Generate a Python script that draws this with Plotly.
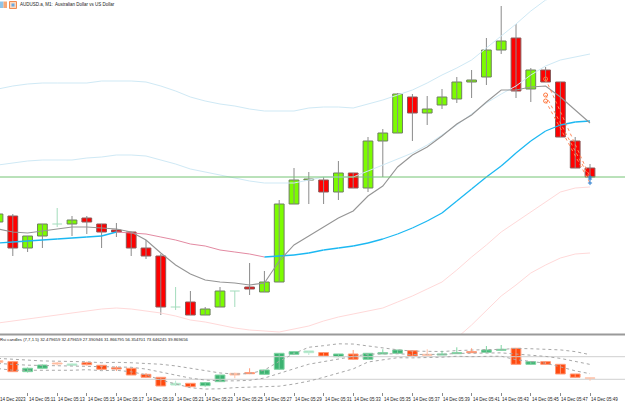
import plotly.graph_objects as go
import pandas as pd

# ---------------- data ----------------
times = pd.date_range("2023-12-14 05:09", periods=41, freq="min")
time_labels = [t.strftime("%H:%M") for t in times]
date_label = "14 Dec 2023"

open_ = [0.67278, 0.67284, 0.67252, 0.67264, 0.67276, 0.67276, 0.67282, 0.67276, 0.67270, 0.67268,
         0.67252, 0.67244, 0.67193, 0.67198, 0.67185, 0.67193, 0.67209, 0.67213, 0.67208, 0.67218,
         0.67296, 0.67320, 0.67320, 0.67308, 0.67327, 0.67312, 0.67359, 0.67367, 0.67403, 0.67387,
         0.67395, 0.67401, 0.67418, 0.67423, 0.67450, 0.67462, 0.67411, 0.67430, 0.67418, 0.67359,
         0.67332]
high = [0.67288, 0.67286, 0.67264, 0.67276, 0.67292, 0.67284, 0.67284, 0.67276, 0.67277, 0.67268,
        0.67260, 0.67246, 0.67213, 0.67209, 0.67193, 0.67213, 0.67209, 0.67237, 0.67229, 0.67300,
        0.67332, 0.67328, 0.67323, 0.67339, 0.67327, 0.67363, 0.67371, 0.67407, 0.67406, 0.67404,
        0.67411, 0.67423, 0.67430, 0.67462, 0.67494, 0.67476, 0.67432, 0.67433, 0.67418, 0.67363,
        0.67336]
low = [0.67275, 0.67244, 0.67248, 0.67252, 0.67273, 0.67264, 0.67266, 0.67252, 0.67263, 0.67244,
       0.67241, 0.67185, 0.67190, 0.67185, 0.67185, 0.67193, 0.67193, 0.67205, 0.67208, 0.67218,
       0.67296, 0.67296, 0.67296, 0.67300, 0.67312, 0.67308, 0.67323, 0.67367, 0.67359, 0.67375,
       0.67391, 0.67397, 0.67402, 0.67415, 0.67446, 0.67402, 0.67398, 0.67418, 0.67363, 0.67332,
       0.67323]
close = [0.67286, 0.67252, 0.67264, 0.67276, 0.67276, 0.67280, 0.67278, 0.67268, 0.67268, 0.67252,
         0.67244, 0.67193, 0.67193, 0.67185, 0.67191, 0.67209, 0.67209, 0.67211, 0.67218, 0.67296,
         0.67320, 0.67321, 0.67308, 0.67327, 0.67312, 0.67359, 0.67367, 0.67406, 0.67387, 0.67391,
         0.67403, 0.67418, 0.67420, 0.67450, 0.67459, 0.67409, 0.67430, 0.67418, 0.67363, 0.67332,
         0.67323]

ma_fast = [0.67271, 0.67268, 0.67267, 0.67269, 0.67271, 0.67273, 0.67273, 0.67272, 0.67271, 0.67268,
           0.67260, 0.67247, 0.67235, 0.67226, 0.67220, 0.67218, 0.67217, 0.67215, 0.67217, 0.67239,
           0.67255, 0.67264, 0.67273, 0.67282, 0.67289, 0.67304, 0.67314, 0.67333, 0.67345, 0.67353,
           0.67364, 0.67376, 0.67385, 0.67398, 0.67410, 0.67410, 0.67413, 0.67414, 0.67403, 0.67390,
           0.67377]
ma_slow = [0.67257, 0.67258, 0.67259, 0.67260, 0.67261, 0.67262, 0.67263, 0.67264, 0.67268, 0.67267,
           0.67266, 0.67263, 0.67260, 0.67256, 0.67254, 0.67250, 0.67248, 0.67246, 0.67243, 0.67244,
           0.67245, 0.67247, 0.67250, 0.67252, 0.67254, 0.67257, 0.67261, 0.67266, 0.67272, 0.67279,
           0.67287, 0.67299, 0.67311, 0.67323, 0.67334, 0.67347, 0.67359, 0.67369, 0.67375, 0.67378,
           0.67379]
band_up2 = [0.67411, 0.67414, 0.67416, 0.67417, 0.67417, 0.67417, 0.67417, 0.67419, 0.67419, 0.67419,
            0.67418, 0.67414, 0.67409, 0.67403, 0.67399, 0.67396, 0.67394, 0.67391, 0.67389, 0.67389,
            0.67389, 0.67392, 0.67393, 0.67393, 0.67392, 0.67396, 0.67400, 0.67405, 0.67410, 0.67417,
            0.67425, 0.67432, 0.67440, 0.67452, 0.67464, 0.67476, 0.67489, 0.67500, 0.67504, 0.67506,
            0.67506]
band_up1 = [0.67335, 0.67337, 0.67339, 0.67340, 0.67340, 0.67340, 0.67342, 0.67343, 0.67345, 0.67345,
            0.67344, 0.67340, 0.67336, 0.67331, 0.67328, 0.67325, 0.67322, 0.67319, 0.67317, 0.67317,
            0.67317, 0.67320, 0.67323, 0.67323, 0.67323, 0.67329, 0.67335, 0.67341, 0.67347, 0.67355,
            0.67365, 0.67375, 0.67386, 0.67397, 0.67406, 0.67414, 0.67425, 0.67434, 0.67440, 0.67443,
            0.67446]
band_dn1 = [0.67177, 0.67179, 0.67181, 0.67183, 0.67185, 0.67187, 0.67189, 0.67191, 0.67192, 0.67191,
            0.67189, 0.67187, 0.67184, 0.67180, 0.67178, 0.67175, 0.67172, 0.67170, 0.67169, 0.67168,
            0.67171, 0.67174, 0.67179, 0.67183, 0.67186, 0.67189, 0.67192, 0.67198, 0.67204, 0.67211,
            0.67218, 0.67230, 0.67243, 0.67255, 0.67268, 0.67278, 0.67288, 0.67298, 0.67308, 0.67312,
            0.67313]
band_dn2 = [0.67096, 0.67100, 0.67103, 0.67106, 0.67109, 0.67112, 0.67115, 0.67117, 0.67116, 0.67114,
            0.67110, 0.67110, 0.67107, 0.67104, 0.67101, 0.67100, 0.67095, 0.67094, 0.67094, 0.67093,
            0.67097, 0.67101, 0.67108, 0.67114, 0.67119, 0.67121, 0.67123, 0.67130, 0.67136, 0.67142,
            0.67146, 0.67162, 0.67175, 0.67189, 0.67204, 0.67215, 0.67227, 0.67235, 0.67242, 0.67246,
            0.67247]

trade_open_idx = 37
trade_close_idx = 40
trade_open_prices = [0.67421, 0.67405, 0.67399]
trade_close_prices = [0.67323, 0.67321, 0.67317]

rsi_open = [63.0, 61.2, 43.5, 49.5, 58.8, 54.8, 59.4, 54.8, 50.5, 49.5,
            38.8, 33.5, 19.9, 22.9, 18.7, 25.8, 40.6, 41.7, 38.8, 47.7,
            74.2, 77.1, 77.4, 70.0, 74.8, 65.4, 74.8, 76.0, 80.6, 74.2,
            73.0, 75.3, 78.9, 77.8, 81.3, 84.9, 56.5, 61.2, 56.5, 39.4,
            32.48]
rsi_high = [64.0, 62.4, 50.9, 56.2, 60.6, 58.0, 61.2, 54.8, 53.5, 49.5,
            41.0, 33.5, 27.5, 22.9, 25.2, 37.6, 41.7, 49.5, 46.5, 76.0,
            78.9, 80.1, 77.4, 74.8, 81.9, 76.0, 83.1, 81.9, 80.6, 83.1,
            80.6, 86.6, 84.9, 88.9, 90.7, 84.9, 61.2, 61.2, 56.5, 39.4,
            32.48]
rsi_low = [59.5, 43.0, 42.0, 49.5, 54.4, 54.8, 54.4, 46.5, 44.7, 37.6,
           33.5, 18.1, 18.1, 16.9, 16.9, 25.8, 31.8, 39.9, 38.8, 47.7,
           74.2, 73.0, 71.2, 70.0, 65.4, 65.4, 74.8, 76.0, 71.2, 72.5,
           73.0, 75.3, 77.1, 77.8, 81.3, 56.5, 56.5, 56.5, 39.4, 33.5,
           27.39]
rsi_close = [60.0, 43.5, 49.5, 55.3, 57.1, 57.1, 55.8, 47.7, 48.2, 37.6,
             33.5, 18.1, 22.9, 16.9, 24.0, 37.6, 37.6, 39.9, 46.5, 76.0,
             78.9, 80.1, 71.2, 74.8, 65.4, 76.0, 77.1, 81.9, 71.2, 72.5,
             74.8, 77.1, 77.1, 81.9, 83.1, 56.5, 61.2, 56.5, 39.4, 33.5,
             31.87]
rsi_faint = [1, 0, 0, 0, 1, 1, 0, 0, 0, 0,
             0, 0, 1, 0, 0, 0, 1, 0, 0, 0,
             0, 1, 0, 0, 0, 0, 0, 0, 0, 1,
             0, 0, 0, 0, 0, 0, 0, 0, 0, 0,
             1]
rsi_mid = [58, 56, 55, 54.5, 54, 54, 54, 52.3, 53, 51.3,
           48.1, 42.6, 37.7, 32.1, 28.7, 27.2, 27.2, 28.1, 32.2, 39.8,
           48.6, 56.7, 61.5, 66.8, 70.4, 74.6, 74.8, 75.2, 73.9, 74.1,
           74.1, 75.8, 76.0, 76.6, 76.8, 74.7, 73.1, 70.5, 67.0, 62.0,
           56.35]
rsi_upper = [67, 66, 64, 62.5, 62, 62, 61, 59.3, 60, 59.3,
             58.1, 56.6, 53.7, 49.1, 44.7, 41.2, 39.2, 40.1, 46.2, 61.8,
             75.6, 86.7, 89.5, 92.8, 92.4, 88.6, 84.8, 82.2, 79.9, 80.1,
             79.1, 80.8, 82.0, 82.6, 82.8, 84.7, 84.1, 82.5, 82.0, 79.0,
             73.65]
rsi_lower = [49, 46, 46, 46.5, 46, 46, 47, 45.3, 46, 43.3,
             38.1, 28.6, 21.7, 15.1, 12.7, 13.2, 15.2, 16.1, 18.2, 17.8,
             21.6, 26.7, 33.5, 40.8, 48.4, 60.6, 64.8, 68.2, 67.9, 68.1,
             69.1, 70.8, 70.0, 70.6, 70.8, 64.7, 62.1, 58.5, 52.0, 45.0,
             39.87]
rsi_levels = [70, 30]
rsi_caption = ("Rsi candles (7,7,1.5) 32.479659 32.479659 27.390946 31.866795 "
               "56.354701 73.646245 39.869656")
title_text = "AUDUSD.a, M1:  Australian Dollar vs US Dollar"

# ---------------- geometry helpers (pixel -> paper) ----------------
W, H = 625, 404
def px(x):
    return x / W
def py(y):
    return 1 - y / H

n = len(times)
xs = list(range(n))
X_MIN, X_MAX = 2 / 14.8, 627 / 14.8
BODY_W = 0.66
FONT = "Liberation Sans, Arial, sans-serif"
TXT = "#222222"

fig = go.Figure()

def wick_trace(idx, lo, hi, color, xa, ya):
    wx, wy = [], []
    for i in idx:
        wx += [xs[i], xs[i], None]
        wy += [lo[i], hi[i], None]
    return go.Scatter(x=wx, y=wy, mode="lines", line=dict(color=color, width=1),
                      hoverinfo="skip", showlegend=False, xaxis=xa, yaxis=ya)

def body_trace(idx, o, c, fill, edge, xa, ya):
    return go.Bar(x=[xs[i] for i in idx],
                  y=[abs(c[i] - o[i]) for i in idx],
                  base=[min(o[i], c[i]) for i in idx],
                  width=BODY_W, marker=dict(color=fill, line=dict(color=edge, width=1)),
                  hoverinfo="skip", showlegend=False, xaxis=xa, yaxis=ya)

def line_trace(vals, color, xa="x", ya="y", dash="solid", width=1):
    return go.Scatter(x=xs, y=vals, mode="lines", line=dict(color=color, width=width, dash=dash),
                      hoverinfo="skip", showlegend=False, xaxis=xa, yaxis=ya)

# --- main panel: price candles ---
up = [i for i in xs if close[i] > open_[i]]
dn = [i for i in xs if close[i] < open_[i]]
dj = [i for i in xs if close[i] == open_[i]]

fig.add_trace(wick_trace(up + dn, low, high, "#8a8a8a", "x", "y"))
fig.add_trace(wick_trace(dj, low, high, "#a3dcbc", "x", "y"))
fig.add_trace(body_trace(up, open_, close, "#7cfc00", "#6f7f62", "x", "y"))
fig.add_trace(body_trace(dn, open_, close, "#ff0000", "#8a5a5a", "x", "y"))
djx, djy = [], []
for i in dj:
    djx += [xs[i] - BODY_W / 2, xs[i] + BODY_W / 2, None]
    djy += [open_[i], open_[i], None]
fig.add_trace(go.Scatter(x=djx, y=djy, mode="lines", line=dict(color="#a3dcbc", width=1),
                         hoverinfo="skip", showlegend=False))

# --- bands ---
fig.add_trace(line_trace(band_up2, "#cfe9f5"))
fig.add_trace(line_trace(band_up1, "#cfe9f5"))
fig.add_trace(line_trace(band_dn1, "#ffd9d9"))
fig.add_trace(line_trace(band_dn2, "#ffd9d9"))

# --- slow MA, coloured by slope ---
bx, by, rx, ry = [], [], [], []
for i in range(n - 1):
    if ma_slow[i + 1] > ma_slow[i]:
        bx += [xs[i], xs[i + 1], None]; by += [ma_slow[i], ma_slow[i + 1], None]
    else:
        rx += [xs[i], xs[i + 1], None]; ry += [ma_slow[i], ma_slow[i + 1], None]
fig.add_trace(go.Scatter(x=bx, y=by, mode="lines", line=dict(color="#1cb8f2", width=1.3),
                         hoverinfo="skip", showlegend=False))
fig.add_trace(go.Scatter(x=rx, y=ry, mode="lines", line=dict(color="#e38aa2", width=1),
                         hoverinfo="skip", showlegend=False))

# --- fast MA ---
fig.add_trace(line_trace(ma_fast, "#959595", width=1.1))

# --- bid line ---
fig.add_trace(go.Scatter(x=[X_MIN, X_MAX], y=[close[-1], close[-1]], mode="lines",
                         line=dict(color="#74c474", width=1), hoverinfo="skip", showlegend=False))

# --- trades ---
tx, ty = [], []
for po, pc in zip(trade_open_prices, trade_close_prices):
    tx += [trade_open_idx, trade_close_idx, None]
    ty += [po, pc, None]
fig.add_trace(go.Scatter(x=tx, y=ty, mode="lines", line=dict(color="#ff8a5c", width=1, dash="dot"),
                         hoverinfo="skip", showlegend=False))
fig.add_trace(go.Scatter(x=[trade_open_idx] * len(trade_open_prices), y=trade_open_prices,
                         mode="markers", marker=dict(symbol="circle-open", size=4, color="#ff7a40",
                                                     line=dict(width=1)),
                         hoverinfo="skip", showlegend=False))
fig.add_trace(go.Scatter(x=[trade_close_idx] * len(trade_close_prices), y=trade_close_prices,
                         mode="markers", marker=dict(symbol="cross-thin", size=3,
                                                     line=dict(color="#2a7fd0", width=1)),
                         hoverinfo="skip", showlegend=False))

# --- sub panel: RSI candles ---
for lvl in rsi_levels:
    fig.add_trace(go.Scatter(x=[X_MIN, X_MAX], y=[lvl, lvl], mode="lines",
                             line=dict(color="#cfcfcf", width=1), hoverinfo="skip",
                             showlegend=False, xaxis="x2", yaxis="y2"))
for band in (rsi_upper, rsi_mid, rsi_lower):
    fig.add_trace(line_trace(band, "#a8a8a8", "x2", "y2", dash="dot", width=1))

groups = [
    (lambda i: rsi_close[i] >= rsi_open[i] and not rsi_faint[i], "#3cb371", "#7fd3a2"),
    (lambda i: rsi_close[i] >= rsi_open[i] and rsi_faint[i], "#9fe0b9", "#b8ead0"),
    (lambda i: rsi_close[i] < rsi_open[i] and not rsi_faint[i], "#ff4a0f", "#ff9a78"),
    (lambda i: rsi_close[i] < rsi_open[i] and rsi_faint[i], "#ffa47e", "#ffc2a8"),
]
for cond, fill, edge in groups:
    idx = [i for i in xs if cond(i)]
    if not idx:
        continue
    fig.add_trace(wick_trace(idx, rsi_low, rsi_high, edge, "x2", "y2"))
    fig.add_trace(body_trace(idx, rsi_open, rsi_close, fill, edge, "x2", "y2"))

# ---------------- layout ----------------
tick_idx = list(range(0, n, 2))
annotations = []
for i in tick_idx:
    if i == 0:
        annotations.append(dict(x=px(-1.5), y=py(399), xref="paper", yref="paper", text=date_label,
                                showarrow=False, xanchor="left", yanchor="middle", borderpad=0,
                                font=dict(family=FONT, size=4.5, color=TXT)))
    else:
        annotations.append(dict(x=xs[i], y=py(399), xref="x2", yref="paper",
                                text="14 Dec " + time_labels[i],
                                showarrow=False, xanchor="left", yanchor="middle", borderpad=0,
                                font=dict(family=FONT, size=4.5, color=TXT)))
annotations.append(dict(x=px(19), y=py(4.5), xref="paper", yref="paper", text=title_text,
                        showarrow=False, xanchor="left", yanchor="middle", borderpad=0,
                        font=dict(family=FONT, size=4.5, color=TXT)))
annotations.append(dict(x=px(-1), y=py(339.5), xref="paper", yref="paper", text=rsi_caption,
                        showarrow=False, xanchor="left", yanchor="middle", borderpad=0,
                        font=dict(family=FONT, size=4.25, color=TXT)))

shapes = [
    dict(type="line", xref="paper", yref="paper", x0=0, x1=1, y0=py(334.5), y1=py(334.5),
         line=dict(color="#9a9a9a", width=2)),
    dict(type="rect", xref="paper", yref="paper", x0=px(0), x1=px(3.5), y0=py(8), y1=py(1.5),
         fillcolor="#8fc4e8", line=dict(width=0)),
    dict(type="rect", xref="paper", yref="paper", x0=px(3.5), x1=px(7), y0=py(8), y1=py(1.5),
         fillcolor="#f5a878", line=dict(width=0)),
    dict(type="rect", xref="paper", yref="paper", x0=px(9.5), x1=px(16.5), y0=py(8.5), y1=py(1.5),
         fillcolor="#fcd9c0", line=dict(color="#f08a50", width=1)),
    dict(type="rect", xref="paper", yref="paper", x0=px(11.5), x1=px(14.5), y0=py(6.5), y1=py(3.5),
         fillcolor="#6aa8e0", line=dict(width=0)),
]

fig.update_layout(
    width=W, height=H, margin=dict(l=0, r=0, t=0, b=0),
    paper_bgcolor="white", plot_bgcolor="white", showlegend=False, barmode="overlay",
    xaxis=dict(domain=[0, 1], range=[X_MIN, X_MAX], visible=False, anchor="y"),
    xaxis2=dict(domain=[0, 1], range=[X_MIN, X_MAX], anchor="y2", matches="x",
                showticklabels=False, showgrid=False, zeroline=False, showline=False,
                ticks="outside", ticklen=3, tickcolor="#8a8a8a", tickwidth=1,
                tickmode="array", tickvals=tick_idx),
    yaxis=dict(domain=[py(334), 1], range=[0.67166, 0.67500], visible=False),
    yaxis2=dict(domain=[py(392), py(335)], range=[7.5, 108.4], visible=False),
    annotations=annotations, shapes=shapes,
)

fig.write_html("out.html")
